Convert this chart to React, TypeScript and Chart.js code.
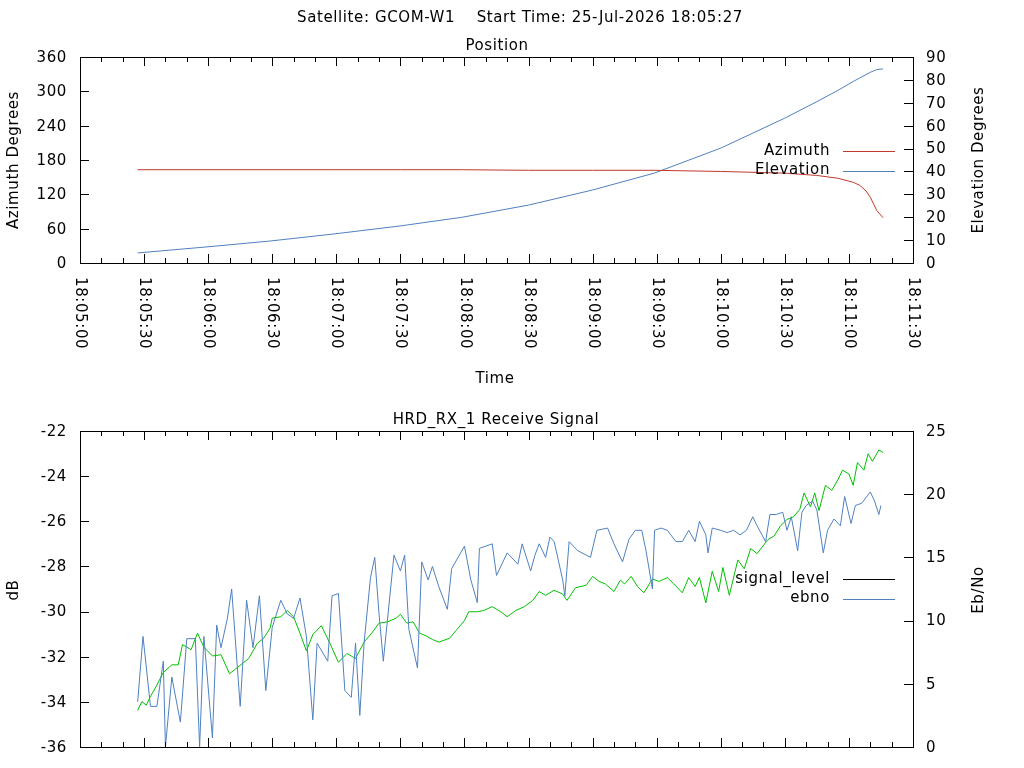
import React, { useEffect, useRef } from "react";
import { Chart, registerables } from "chart.js";
Chart.register(...registerables);

// seconds after 18:05:00
const posTimes = [27, 59, 89, 119, 150, 179, 210, 240, 269, 300, 330, 345, 355, 362, 365, 368, 370, 373, 376];
const azimuth = [163, 163, 163, 163, 163, 163, 162, 162, 162, 160, 157, 153, 148, 141, 136, 126, 115, 92, 79];
const elevation = [4.4, 7, 9.6, 12.7, 16.2, 20, 25.3, 31.9, 39.3, 50.2, 63.3, 70.5, 75.5, 79.3, 80.8, 82.3, 83.3, 84.5, 84.8];

const sigTimes = [27, 29.5, 33, 36, 39, 40, 43, 47, 50, 54, 56, 58, 62, 64, 66, 69, 71, 75, 78, 81, 84, 87, 90, 94, 97, 100, 103, 106, 109, 111, 116, 118, 121, 124, 127, 129, 131, 133, 136, 138, 140, 142, 147, 150, 152, 154, 158, 160, 163, 165, 168, 172, 174, 177, 180, 183, 186, 187, 193, 195, 200, 205, 207, 211, 213, 215, 218, 220, 222, 226, 227, 229, 233, 237, 239, 242, 247, 250, 254, 257, 260, 263, 265, 268, 269, 272, 275, 279, 282, 285, 288, 290, 293, 294, 296, 300, 303, 306, 309, 312, 315, 317, 321, 323, 326, 329, 331, 333, 336, 338, 340, 343, 345, 348, 350, 353, 356, 358, 361, 363, 366, 370, 372, 374, 375];
const sigLevel = [-34.0, -31.1, -34.2, -34.2, -32.2, -36, -32.9, -34.9, -31.2, -31.2, -36, -31.1, -35.6, -30.6, -31.6, -30.3, -29.0, -34.2, -29.5, -31.6, -29.3, -33.5, -30.7, -29.5, -30.1, -30.3, -29.4, -31.1, -34.8, -31.4, -32.2, -29.3, -29.2, -33.5, -33.8, -31.4, -34.6, -31.4, -28.5, -27.6, -30.1, -32.2, -27.5, -28.2, -27.5, -30.8, -32.5, -27.8, -28.6, -28.0, -28.9, -29.9, -28.1, -27.6, -27.1, -28.6, -29.6, -27.2, -27.0, -28.4, -27.4, -27.9, -27.0, -28.2, -27.5, -27.0, -27.6, -26.7, -26.9, -28.6, -29.3, -26.9, -27.3, -27.5, -27.6, -26.4, -26.3, -27.0, -27.8, -26.8, -26.4, -26.4, -27.3, -29.0, -26.4, -26.3, -26.4, -26.9, -26.9, -26.4, -26.9, -26.0, -26.6, -27.4, -26.3, -26.4, -26.5, -26.4, -26.6, -26.4, -25.8, -26.2, -26.9, -25.7, -25.7, -25.6, -26.4, -25.8, -27.3, -25.6, -25.3, -25.1, -25.5, -27.4, -26.4, -25.9, -26.2, -24.9, -26.1, -25.3, -25.2, -24.7, -25.1, -25.7, -25.3];

const ebnoTimes = [27, 29, 31, 33, 36, 39, 43, 46, 48, 52, 55, 58, 62, 66, 70, 73, 76, 79, 83, 86, 89, 90, 94, 97, 100, 103, 106, 109, 113, 117, 121, 125, 129, 133, 137, 140, 144, 148, 150, 153, 156, 159, 162, 165, 168, 173, 176, 180, 182, 186, 189, 193, 197, 200, 204, 208, 212, 215, 218, 222, 226, 228, 232, 237, 240, 243, 246, 250, 253, 255, 258, 261, 264, 268, 271, 275, 278, 282, 285, 288, 290, 293, 296, 299, 301, 304, 308, 311, 314, 317, 322, 325, 328, 331, 334, 337, 339, 342, 344, 346, 349, 352, 355, 357, 360, 362, 364, 367, 369, 371, 374, 376];
const ebno = [2.9, 3.6, 3.3, 4.0, 4.9, 5.9, 6.5, 6.5, 8.1, 7.7, 9.0, 7.9, 7.2, 7.3, 5.8, 6.2, 6.6, 7.0, 8.2, 8.6, 9.4, 10.2, 10.3, 10.8, 10.3, 9.0, 7.6, 8.9, 9.6, 8.2, 6.7, 7.4, 7.0, 8.3, 9.1, 9.8, 9.9, 10.2, 10.5, 9.8, 9.9, 9.0, 8.8, 8.5, 8.3, 8.6, 9.2, 10.0, 10.7, 10.7, 10.8, 11.1, 10.7, 10.3, 10.8, 11.1, 11.6, 12.3, 12.0, 12.4, 12.1, 11.6, 12.6, 12.8, 13.5, 13.1, 12.9, 12.3, 13.2, 12.9, 13.5, 12.7, 12.2, 13.3, 13.1, 13.4, 12.9, 12.2, 13.4, 12.7, 13.4, 11.4, 13.9, 12.3, 14.2, 12.0, 14.8, 14.1, 15.7, 15.3, 16.4, 16.7, 17.5, 18.0, 18.2, 18.8, 20.1, 19.0, 20.1, 18.7, 20.7, 20.3, 21.2, 21.9, 21.6, 20.7, 22.5, 21.9, 23.2, 22.6, 23.5, 23.3];

const posXTicks = ["18:05:00", "18:05:30", "18:06:00", "18:06:30", "18:07:00", "18:07:30", "18:08:00", "18:08:30", "18:09:00", "18:09:30", "18:10:00", "18:10:30", "18:11:00", "18:11:30"];

const FONT = '"DejaVu Sans", sans-serif';
const RED = "#c0392b";
const BLUE = "#4f81c0";
const GREEN = "#00c000";

type Cfg = {
  height: number; top: number; bottom: number;
  yL: { min: number; max: number; step: number };
  yR: { min: number; max: number; step: number };
  datasets: any[];
  xLabels: boolean;
  texts: (ctx: CanvasRenderingContext2D, ca: any) => void;
  legend: { label: string; color: string }[];
  legendY: number;
};

function setFont(ctx: CanvasRenderingContext2D) {
  ctx.font = "15px " + FONT;
  (ctx as any).letterSpacing = "0.6px";
}

function makeChart(canvas: HTMLCanvasElement, c: Cfg) {
  const framePlugin = {
    id: "frame",
    afterDraw(chart: any) {
      const ctx = chart.ctx as CanvasRenderingContext2D;
      const ca = chart.chartArea;
      const xs = chart.scales.x, yl = chart.scales.y, yr = chart.scales.y1;
      ctx.save();
      ctx.strokeStyle = "#000";
      ctx.lineWidth = 1;
      ctx.strokeRect(Math.round(ca.left) + 0.5, Math.round(ca.top) + 0.5, Math.round(ca.right - ca.left), Math.round(ca.bottom - ca.top));
      ctx.fillStyle = "#000";
      setFont(ctx);
      ctx.beginPath();
      xs.ticks.forEach((t: any) => {
        const px = Math.round(xs.getPixelForValue(t.value)) + 0.5;
        const major = t.value % 30 === 0;
        const len = major ? 9 : 5;
        ctx.moveTo(px, ca.bottom); ctx.lineTo(px, ca.bottom - len);
        ctx.moveTo(px, ca.top); ctx.lineTo(px, ca.top + len);
      });
      yl.ticks.forEach((t: any) => {
        const py = Math.round(yl.getPixelForValue(t.value)) + 0.5;
        ctx.moveTo(ca.left, py); ctx.lineTo(ca.left + 9, py);
      });
      yr.ticks.forEach((t: any) => {
        const py = Math.round(yr.getPixelForValue(t.value)) + 0.5;
        ctx.moveTo(ca.right, py); ctx.lineTo(ca.right - 9, py);
      });
      ctx.stroke();
      ctx.textBaseline = "middle";
      ctx.textAlign = "right";
      yl.ticks.forEach((t: any) => ctx.fillText(String(t.value), ca.left - 13, yl.getPixelForValue(t.value) + 1));
      ctx.textAlign = "left";
      yr.ticks.forEach((t: any) => ctx.fillText(String(t.value), ca.right + 13, yr.getPixelForValue(t.value) + 1));
      if (c.xLabels) {
        xs.ticks.forEach((t: any) => {
          if (t.value % 30 !== 0) return;
          const lbl = posXTicks[t.value / 30];
          ctx.save();
          ctx.translate(xs.getPixelForValue(t.value), ca.bottom + 14);
          ctx.rotate(Math.PI / 2);
          ctx.textAlign = "left";
          ctx.textBaseline = "middle";
          ctx.fillText(lbl, 0, 0);
          ctx.restore();
        });
      }
      c.legend.forEach((l, i) => {
        const y = c.legendY + i * 19.5;
        ctx.textAlign = "right";
        ctx.fillStyle = "#000";
        ctx.fillText(l.label, 830, y);
        ctx.strokeStyle = l.color;
        ctx.beginPath();
        ctx.moveTo(843, Math.round(y) + 0.5); ctx.lineTo(895, Math.round(y) + 0.5);
        ctx.stroke();
      });
      c.texts(ctx, ca);
      ctx.restore();
    },
  };
  return new Chart(canvas, {
    type: "line",
    data: { datasets: c.datasets },
    options: {
      animation: false,
      responsive: false,
      layout: { padding: 0 },
      plugins: { legend: { display: false }, tooltip: { enabled: false }, title: { display: false } },
      elements: { point: { radius: 0 }, line: { borderWidth: 1, tension: 0 } },
      scales: {
        x: {
          type: "linear", min: 0, max: 390,
          ticks: { display: false, stepSize: 10 },
          grid: { display: false }, border: { display: false },
          afterFit: (s: any) => { s.height = c.height - c.bottom; },
        },
        y: {
          position: "left", min: c.yL.min, max: c.yL.max,
          ticks: { display: false, stepSize: c.yL.step },
          grid: { display: false }, border: { display: false },
          afterFit: (s: any) => { s.width = 80; },
        },
        y1: {
          position: "right", min: c.yR.min, max: c.yR.max,
          ticks: { display: false, stepSize: c.yR.step },
          grid: { display: false }, border: { display: false },
          afterFit: (s: any) => { s.width = 1024 - 913; },
        },
      },
    } as any,
    plugins: [
      { id: "pad", beforeLayout(chart: any) { chart.options.layout.padding = { top: c.top, left: 0, right: 0, bottom: 0 }; } },
      framePlugin,
    ],
  });
}

const pts = (xs: number[], ys: number[]) => xs.map((x, i) => ({ x, y: ys[i] }));

function rotText(ctx: CanvasRenderingContext2D, s: string, x: number, y: number) {
  ctx.save();
  ctx.translate(x, y);
  ctx.rotate(-Math.PI / 2);
  ctx.textAlign = "center";
  ctx.textBaseline = "middle";
  ctx.fillText(s, 0, 0);
  ctx.restore();
}

export default function App() {
  const r1 = useRef<HTMLCanvasElement>(null);
  const r2 = useRef<HTMLCanvasElement>(null);
  useEffect(() => {
    document.body.style.margin = "0";
    const c1 = makeChart(r1.current!, {
      height: 400, top: 57, bottom: 263,
      yL: { min: 0, max: 360, step: 60 }, yR: { min: 0, max: 90, step: 10 },
      xLabels: true,
      datasets: [
        { label: "Azimuth", data: pts(posTimes, azimuth), borderColor: RED, yAxisID: "y" },
        { label: "Elevation", data: pts(posTimes, elevation), borderColor: BLUE, yAxisID: "y1" },
      ],
      legend: [{ label: "Azimuth", color: RED }, { label: "Elevation", color: BLUE }],
      legendY: 151,
      texts: (ctx) => {
        ctx.fillStyle = "#000";
        setFont(ctx);
        ctx.textAlign = "center";
        ctx.textBaseline = "middle";
        ctx.fillText("Satellite: GCOM-W1    Start Time: 25-Jul-2026 18:05:27", 520, 18);
        ctx.fillText("Position", 497, 46);
        ctx.fillText("Time", 495, 379);
        rotText(ctx, "Azimuth Degrees", 14, 160);
        rotText(ctx, "Elevation Degrees", 979, 160);
      },
    });
    const c2 = makeChart(r2.current!, {
      height: 368, top: 31, bottom: 347,
      yL: { min: -36, max: -22, step: 2 }, yR: { min: 0, max: 25, step: 5 },
      xLabels: false,
      datasets: [
        { label: "signal_level", data: pts(sigTimes, sigLevel), borderColor: BLUE, yAxisID: "y" },
        { label: "ebno", data: pts(ebnoTimes, ebno), borderColor: GREEN, yAxisID: "y1" },
      ],
      legend: [{ label: "signal_level", color: "#000" }, { label: "ebno", color: BLUE }],
      legendY: 179,
      texts: (ctx) => {
        ctx.fillStyle = "#000";
        setFont(ctx);
        ctx.textAlign = "center";
        ctx.textBaseline = "middle";
        ctx.fillText("HRD_RX_1 Receive Signal", 496, 20);
        rotText(ctx, "dB", 14, 190);
        rotText(ctx, "Eb/No", 979, 190);
      },
    });
    return () => { c1.destroy(); c2.destroy(); };
  }, []);
  return (
    <div style={{ width: 1024, height: 768, position: "relative", background: "#fff" }}>
      <canvas ref={r1} width={1024} height={400} style={{ position: "absolute", left: 0, top: 0, width: 1024, height: 400 }} />
      <canvas ref={r2} width={1024} height={368} style={{ position: "absolute", left: 0, top: 400, width: 1024, height: 368 }} />
    </div>
  );
}
